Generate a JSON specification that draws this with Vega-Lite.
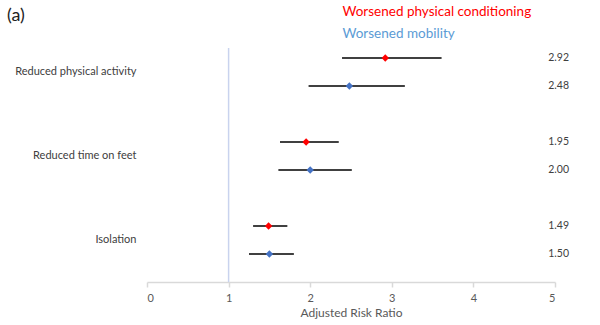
{
  "$schema": "https://vega.github.io/schema/vega-lite/v6.json",
  "width": 408,
  "height": 234,
  "padding": {"left": 5, "top": 5, "right": 5, "bottom": 3},
  "title": {
    "text": "(a)",
    "anchor": "start",
    "frame": "group",
    "dx": -140,
    "offset": -20,
    "fontSize": 18,
    "fontWeight": "normal",
    "font": "Lato",
    "color": "#222222"
  },
  "config": {
    "view": {"stroke": null},
    "font": "Lato",
    "axisX": {
      "grid": false,
      "domainColor": "#d9d9d9",
      "domainWidth": 1.5,
      "tickColor": "#d9d9d9",
      "tickWidth": 1.5,
      "tickSize": 5,
      "labelColor": "#595959",
      "labelFontSize": 11,
      "labelPadding": 5,
      "titleColor": "#595959",
      "titleFontSize": 12,
      "titleFontWeight": "normal",
      "titlePadding": 4
    },
    "axisY": {
      "grid": false,
      "domain": false,
      "ticks": false,
      "labelPadding": 11,
      "labelFontSize": 11,
      "labelColor": "#404040",
      "minExtent": 142,
      "maxExtent": 142,
      "labelLimit": 300
    }
  },
  "data": {
    "values": [
      {"factor": "Reduced physical activity", "outcome": "Worsened physical conditioning", "rr": 2.92, "lo": 2.39, "hi": 3.61},
      {"factor": "Reduced physical activity", "outcome": "Worsened mobility", "rr": 2.48, "lo": 1.98, "hi": 3.16},
      {"factor": "Reduced time on feet", "outcome": "Worsened physical conditioning", "rr": 1.95, "lo": 1.63, "hi": 2.35},
      {"factor": "Reduced time on feet", "outcome": "Worsened mobility", "rr": 2.00, "lo": 1.61, "hi": 2.51},
      {"factor": "Isolation", "outcome": "Worsened physical conditioning", "rr": 1.49, "lo": 1.30, "hi": 1.72},
      {"factor": "Isolation", "outcome": "Worsened mobility", "rr": 1.50, "lo": 1.25, "hi": 1.80}
    ]
  },
  "layer": [
    {
      "data": {"values": [{"ref": 1}]},
      "mark": {"type": "rule", "color": "#c9d3ee", "strokeWidth": 1.5},
      "encoding": {
        "x": {"field": "ref", "type": "quantitative", "scale": {"domain": [0, 5], "nice": false}, "axis": {"values": [0, 1, 2, 3, 4, 5], "format": "d", "title": "Adjusted Risk Ratio"}}
      }
    },
    {
      "mark": {"type": "rule", "color": "#404040", "strokeWidth": 2},
      "encoding": {
        "y": {"field": "factor", "type": "nominal", "title": null, "sort": ["Reduced physical activity", "Reduced time on feet", "Isolation"], "scale": {"paddingInner": 0.4286, "paddingOuter": 0.107, "align": 0}},
        "yOffset": {"field": "outcome", "type": "nominal", "sort": ["Worsened physical conditioning", "Worsened mobility"], "scale": {"paddingInner": 0.2857, "paddingOuter": 0}},
        "x": {"field": "lo", "type": "quantitative"},
        "x2": {"field": "hi"}
      }
    },
    {
      "mark": {"type": "point", "shape": "diamond", "filled": true, "size": 55, "opacity": 1},
      "encoding": {
        "y": {"field": "factor", "type": "nominal", "title": null, "sort": ["Reduced physical activity", "Reduced time on feet", "Isolation"]},
        "yOffset": {"field": "outcome", "type": "nominal", "sort": ["Worsened physical conditioning", "Worsened mobility"]},
        "x": {"field": "rr", "type": "quantitative"},
        "color": {
          "field": "outcome",
          "type": "nominal",
          "scale": {"domain": ["Worsened physical conditioning", "Worsened mobility"], "range": ["#ff0000", "#4472c4"]},
          "legend": {
            "orient": "none",
            "legendX": 182,
            "legendY": -43,
            "title": null,
            "symbolSize": 0,
            "symbolOpacity": 0,
            "symbolStrokeWidth": 0,
            "labelOffset": 0,
            "labelFontSize": 13.5,
            "labelFont": "Lato",
            "rowPadding": 7.5,
            "labelLimit": 400,
            "labelColor": {"expr": "datum.value === 'Worsened mobility' ? '#5b9bd5' : '#ff0000'"}
          }
        }
      }
    },
    {
      "mark": {"type": "text", "align": "right", "baseline": "middle", "dx": 14, "fontSize": 10.5, "color": "#404040"},
      "encoding": {
        "y": {"field": "factor", "type": "nominal", "title": null, "sort": ["Reduced physical activity", "Reduced time on feet", "Isolation"]},
        "yOffset": {"field": "outcome", "type": "nominal", "sort": ["Worsened physical conditioning", "Worsened mobility"]},
        "x": {"datum": 5, "type": "quantitative"},
        "text": {"field": "rr", "type": "quantitative", "format": ".2f"}
      }
    }
  ]
}
